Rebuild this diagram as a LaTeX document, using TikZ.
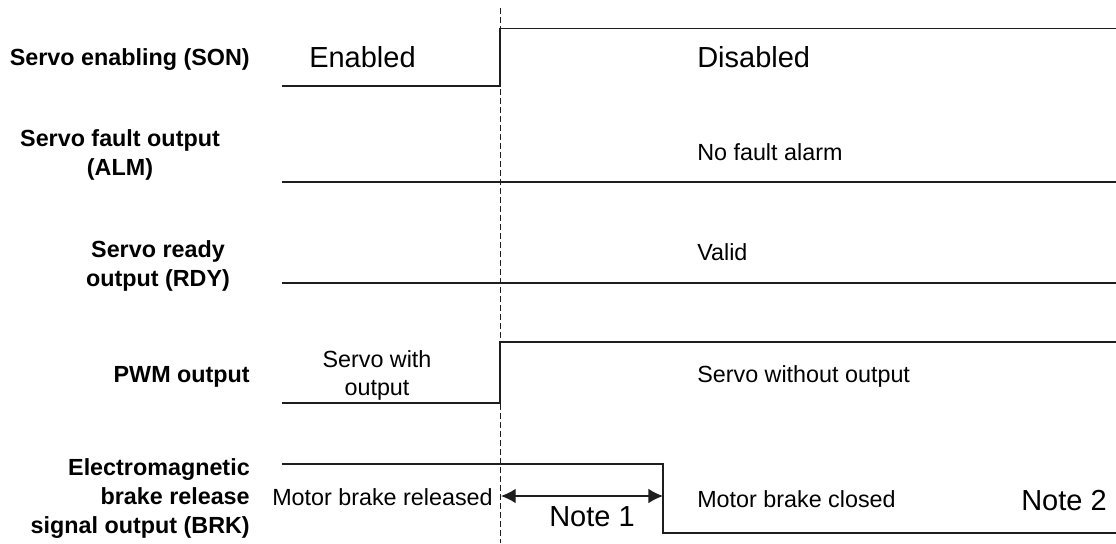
\documentclass[tikz,border=0pt]{standalone}
\usepackage{fontspec}
\setmainfont{Liberation Sans}
\usetikzlibrary{arrows.meta}
\definecolor{wire}{HTML}{1E1E1E}
\definecolor{ink}{HTML}{000000}
\tikzset{
  every node/.append style={inner sep=0pt, text=ink},
  lbl/.style={font=\fontsize{17.5}{21.5}\selectfont\bfseries},
  mid/.style={font=\fontsize{17.5}{20.5}\selectfont},
  big/.style={font=\fontsize{21.75}{26}\selectfont},
  wave/.style={draw=wire, line width=1pt},
  tline/.style={draw=wire, line width=0.75pt, dash pattern=on 4.5pt off 2.25pt},
  dimarr/.style={{Latex[length=11pt,width=11pt]}-{Latex[length=11pt,width=11pt]},
                 draw=wire, line width=1pt},
}
\begin{document}
\begin{tikzpicture}[x=0.75pt,y=-0.75pt]
  \useasboundingbox (0,0) rectangle (1116,543);
  % --- signal names (base = last line) ---
  \node[lbl, anchor=base east] (son) at (250,65) {Servo enabling (SON)};
  \node[lbl, anchor=base, align=center] (alm) at (120,175) {Servo fault output\\(ALM)};
  \node[lbl, anchor=base, align=center] (rdy) at (158,286) {Servo ready\\output (RDY)};
  \node[lbl, anchor=base east] (pwm) at (250,382) {PWM output};
  \node[lbl, anchor=base east, align=right] (brk) at (250,533)
    {Electromagnetic\\brake release\\signal output (BRK)};
  % --- switching instant ---
  \coordinate (ttop) at (500,8);
  \coordinate (tbot) at (500,543);
  \draw[tline] (ttop) -- (tbot);
  % --- waveforms ---
  \draw[wave] (282,86) -- (500,86) -- (500,28.5) -- (1116,28.5);
  \draw[wave] (282,182) -- (1116,182);
  \draw[wave] (282,283) -- (1116,283);
  \draw[wave] (282,403) -- (500,403) -- (500,342) -- (1116,342);
  \draw[wave] (282,464) -- (663,464) -- (663,533) -- (1116,533);
  % --- states ---
  \node[big, anchor=base west] (en) at (309,67) {Enabled};
  \node[big, anchor=base west] (dis) at (697,67) {Disabled};
  \node[mid, anchor=base west] (nofault) at (697,160) {No fault alarm};
  \node[mid, anchor=base west] (valid) at (697,260) {Valid};
  \node[mid, anchor=base, align=center] (pwmon) at (377,395) {Servo with\\output};
  \node[mid, anchor=base west] (pwmoff) at (697,382) {Servo without output};
  \node[mid, anchor=base east] (brkrel) at (493,505) {Motor brake released};
  \node[mid, anchor=base west] (brkcl) at (697,507) {Motor brake closed};
  % --- delay ---
  \coordinate (n1a) at (501,496);
  \coordinate (n1b) at (663,496);
  \draw[dimarr] (n1a) -- (n1b);
  \node[big, anchor=base] (note1) at (592,526) {Note 1};
  \node[big, anchor=base east] (note2) at (1107,510) {Note 2};
\end{tikzpicture}
\end{document}
